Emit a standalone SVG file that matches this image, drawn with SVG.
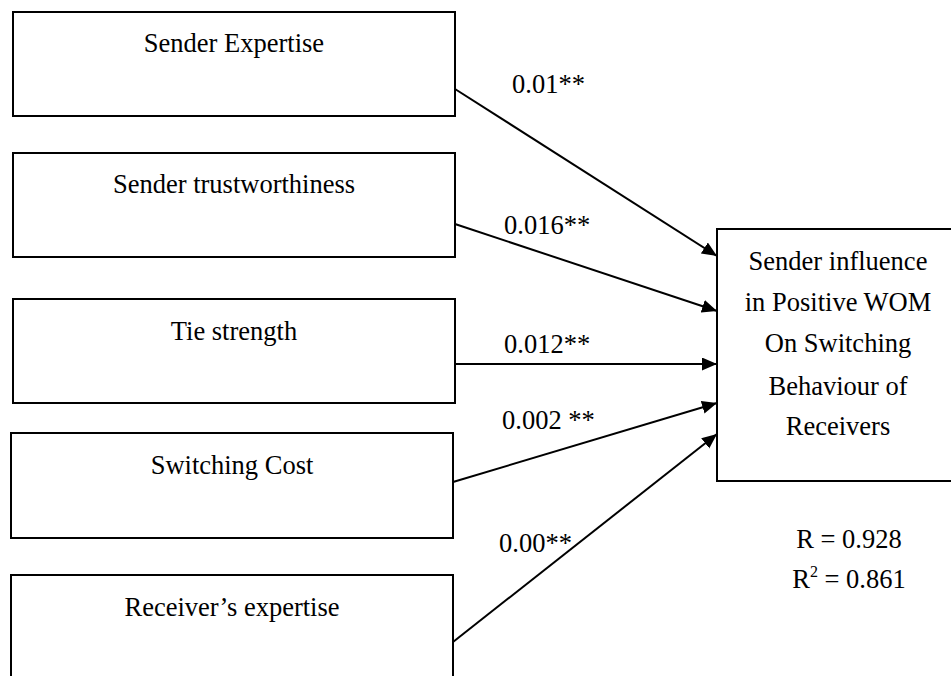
<svg xmlns="http://www.w3.org/2000/svg" width="951" height="676" viewBox="0 0 951 676">
<style>
  .box { fill: #fff; stroke: #000; stroke-width: 2; }
  .t { font-family: "Liberation Serif", "Times New Roman", serif; font-size: 26.5px; fill: #000; }
  .c { text-anchor: middle; }
  .edge { stroke: #000; stroke-width: 2; fill: none; marker-end: url(#arrow); }
</style>
<defs>
  <marker id="arrow" markerUnits="userSpaceOnUse" markerWidth="16" markerHeight="14" refX="15" refY="6.5" orient="auto">
    <path d="M0,0 L15,6.5 L0,13 z" fill="#000"/>
  </marker>
</defs>
<rect width="951" height="676" fill="#fff"/>
<g id="n1"><rect class="box" x="13" y="12" width="442" height="104"/><text class="t c" x="234" y="52">Sender Expertise</text></g>
<g id="n2"><rect class="box" x="13" y="153" width="442" height="104"/><text class="t c" x="234" y="193">Sender trustworthiness</text></g>
<g id="n3"><rect class="box" x="13" y="299" width="442" height="104"/><text class="t c" x="234" y="340">Tie strength</text></g>
<g id="n4"><rect class="box" x="11" y="433" width="442" height="105"/><text class="t c" x="232" y="474">Switching Cost</text></g>
<g id="n5"><rect class="box" x="11" y="575" width="442" height="110"/><text class="t c" x="232" y="616">Receiver’s expertise</text></g>
<g id="target"><rect class="box" x="717" y="229" width="245" height="252"/>
  <text class="t c" x="838" y="270">Sender influence</text>
  <text class="t c" x="838" y="311">in Positive WOM</text>
  <text class="t c" x="838" y="352">On Switching</text>
  <text class="t c" x="838" y="395">Behaviour of</text>
  <text class="t c" x="838" y="435">Receivers</text>
</g>
<g id="connectors">
  <line class="edge" x1="455" y1="89" x2="717" y2="256"/>
  <line class="edge" x1="455" y1="224" x2="717" y2="311"/>
  <line class="edge" x1="455" y1="364" x2="717" y2="364"/>
  <line class="edge" x1="453" y1="482" x2="717" y2="403"/>
  <line class="edge" x1="453" y1="642" x2="717" y2="434"/>
</g>
<g id="labels">
  <text class="t" x="512" y="93">0.01**</text>
  <text class="t" x="504" y="234">0.016**</text>
  <text class="t" x="504" y="353">0.012**</text>
  <text class="t" x="502" y="429">0.002 **</text>
  <text class="t" x="499" y="552">0.00**</text>
  <text class="t c" x="849" y="548">R = 0.928</text>
  <text class="t c" x="849" y="588">R<tspan font-size="16" dy="-11">2</tspan><tspan dy="11"> = 0.861</tspan></text>
</g>
</svg>
